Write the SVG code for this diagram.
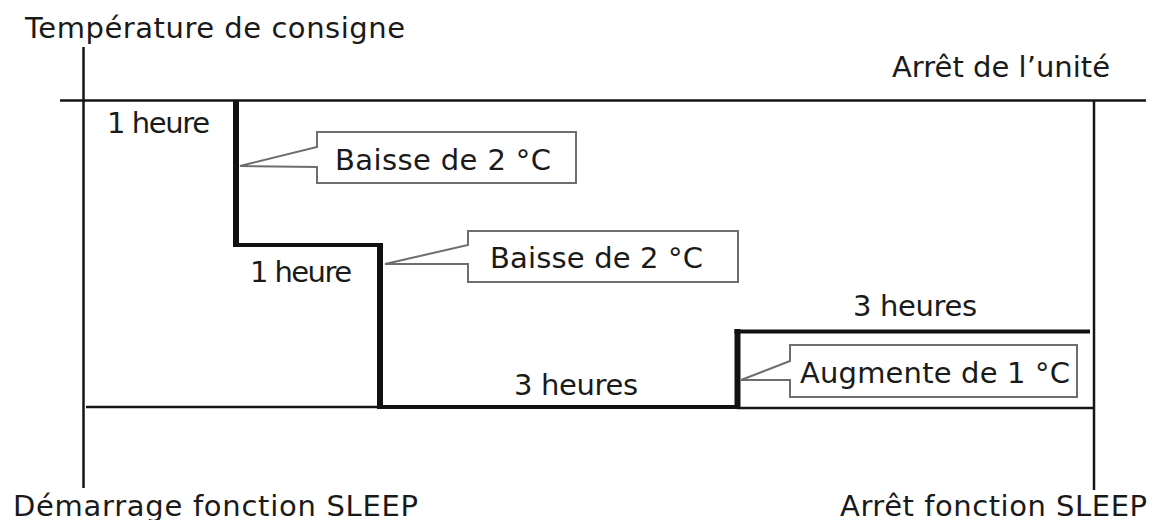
<svg xmlns="http://www.w3.org/2000/svg" width="1157" height="520" viewBox="0 0 1157 520">
<style>
  text { font-family: "DejaVu Sans", "Liberation Sans", sans-serif; font-size: 29px; fill: #1a1a1a; }
  .thin { stroke: #151515; stroke-width: 2.5; fill: none; }
  .thickv { stroke: #111; stroke-width: 6; fill: none; }
  .thickh { stroke: #111; stroke-width: 4; fill: none; }
  .callout { fill: #ffffff; stroke: #6e6e6e; stroke-width: 2; stroke-linejoin: miter; }
</style>
<rect width="1157" height="520" fill="#ffffff"/>
<g id="frame">
  <line class="thin" x1="83.5" y1="47" x2="83.5" y2="488"/>
  <line class="thin" x1="60" y1="100.5" x2="1146" y2="100.5"/>
  <line class="thin" x1="1094" y1="100" x2="1094" y2="490"/>
  <line class="thin" x1="86" y1="407" x2="380" y2="407"/>
  <line class="thin" x1="737" y1="408" x2="1094" y2="408" stroke-width="3"/>
</g>
<g id="connectors">
  <line class="thickv" x1="236" y1="100" x2="236" y2="247"/>
  <line class="thickh" x1="233" y1="245" x2="383" y2="245"/>
  <line class="thickv" x1="380" y1="243" x2="380" y2="409"/>
  <line class="thickh" x1="377" y1="407" x2="740" y2="407"/>
  <line class="thickv" x1="737.5" y1="409" x2="737.5" y2="329"/>
  <line class="thickh" x1="734.5" y1="331.5" x2="1090" y2="331.5" stroke-width="5"/>
</g>
<g id="label-axis">
  <text x="25" y="38" textLength="380">Température de consigne</text>
</g>
<g id="label-arret-unite">
  <text x="892" y="77" textLength="218">Arrêt de l’unité</text>
</g>
<g id="label-1heure-a">
  <text x="107" y="133" textLength="103">1 heure</text>
</g>
<g id="label-1heure-b">
  <text x="250" y="282" textLength="102">1 heure</text>
</g>
<g id="label-3heures-a">
  <text x="514" y="395" textLength="124">3 heures</text>
</g>
<g id="label-3heures-b">
  <text x="853" y="316" textLength="124">3 heures</text>
</g>
<g id="callout-1">
  <path class="callout" d="M317,147 L317,132 L576,132 L576,183 L317,183 L317,167 L240,166 Z"/>
  <text x="335" y="170" textLength="216">Baisse de 2 °C</text>
</g>
<g id="callout-2">
  <path class="callout" d="M468,245 L468,231 L738,231 L738,282 L468,282 L468,264 L385,264 Z"/>
  <text x="490" y="268" textLength="213">Baisse de 2 °C</text>
</g>
<g id="callout-3">
  <path class="callout" d="M790,361 L790,345 L1077,345 L1077,397 L790,397 L790,380 L741,380 Z"/>
  <text x="800" y="383" textLength="270">Augmente de 1 °C</text>
</g>
<g id="label-start">
  <text x="13" y="516" textLength="405">Démarrage fonction SLEEP</text>
</g>
<g id="label-stop">
  <text x="840" y="516" textLength="307">Arrêt fonction SLEEP</text>
</g>
</svg>
